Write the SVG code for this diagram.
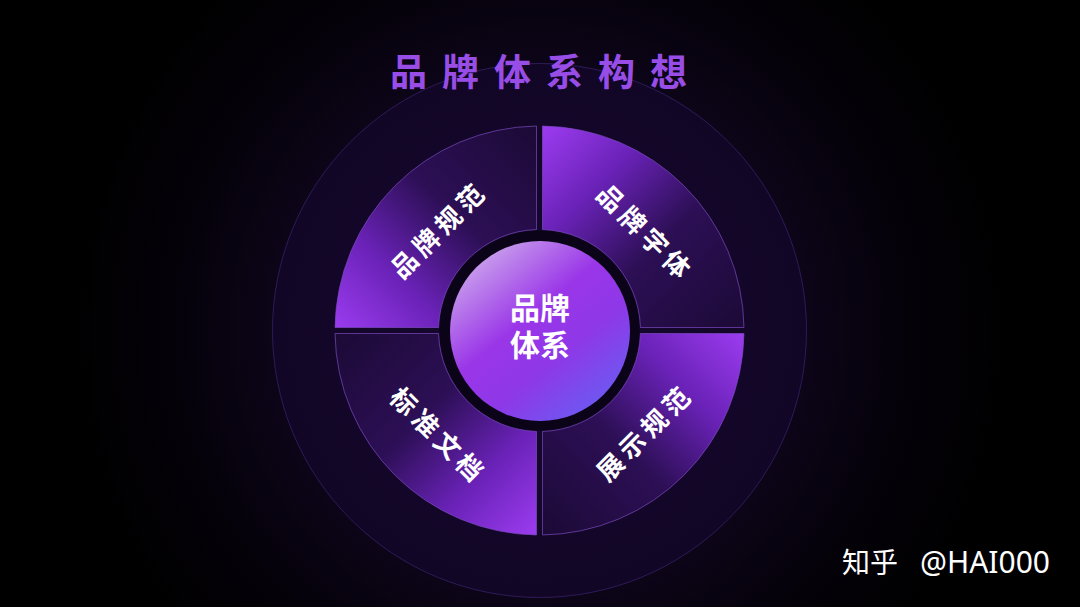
<svg xmlns="http://www.w3.org/2000/svg" width="1080" height="607" viewBox="0 0 1080 607">
  <defs>
    <radialGradient id="bgGlow" cx="540" cy="330" r="470" gradientUnits="userSpaceOnUse">
      <stop offset="0" stop-color="#170a2e"/>
      <stop offset="0.55" stop-color="#0d0519"/>
      <stop offset="0.8" stop-color="#040108"/>
      <stop offset="1" stop-color="#000000"/>
    </radialGradient>
    <radialGradient id="outerFill" cx="540" cy="330" r="268" gradientUnits="userSpaceOnUse">
      <stop offset="0" stop-color="#170831"/>
      <stop offset="1" stop-color="#120626"/>
    </radialGradient>
    <linearGradient id="gTL" x1="336" y1="330" x2="536" y2="126" gradientUnits="userSpaceOnUse">
      <stop offset="0" stop-color="#9c3cf0"/>
      <stop offset="0.28" stop-color="#6a22b8"/>
      <stop offset="0.58" stop-color="#2c0f55"/>
      <stop offset="1" stop-color="#1c0a36"/>
    </linearGradient>
    <linearGradient id="gTR" x1="543" y1="126" x2="744" y2="328" gradientUnits="userSpaceOnUse">
      <stop offset="0" stop-color="#9c3cf0"/>
      <stop offset="0.28" stop-color="#6a22b8"/>
      <stop offset="0.58" stop-color="#2c0f55"/>
      <stop offset="1" stop-color="#1c0a36"/>
    </linearGradient>
    <linearGradient id="gBR" x1="744" y1="334" x2="543" y2="535" gradientUnits="userSpaceOnUse">
      <stop offset="0" stop-color="#9c3cf0"/>
      <stop offset="0.28" stop-color="#6a22b8"/>
      <stop offset="0.58" stop-color="#2c0f55"/>
      <stop offset="1" stop-color="#1c0a36"/>
    </linearGradient>
    <linearGradient id="gBL" x1="536" y1="535" x2="336" y2="334" gradientUnits="userSpaceOnUse">
      <stop offset="0" stop-color="#9c3cf0"/>
      <stop offset="0.28" stop-color="#6a22b8"/>
      <stop offset="0.58" stop-color="#2c0f55"/>
      <stop offset="1" stop-color="#1c0a36"/>
    </linearGradient>
    <linearGradient id="gCenter" x1="0.15" y1="0.08" x2="0.85" y2="0.95">
      <stop offset="0" stop-color="#caa2ec"/>
      <stop offset="0.4" stop-color="#9a36e8"/>
      <stop offset="0.65" stop-color="#8e38e8"/>
      <stop offset="1" stop-color="#6a5cf2"/>
    </linearGradient>
  </defs>
  <style>
    .seg { stroke: #7a48c0; stroke-opacity: 0.7; stroke-width: 1; }
    .lbl { font-family: "Noto Sans CJK SC", "Noto Sans", sans-serif; font-weight: 700; fill: #ffffff; text-anchor: middle; dominant-baseline: central; }
    .seglbl { font-size: 26px; letter-spacing: 5px; }
  </style>

  <rect x="0" y="0" width="1080" height="607" fill="url(#bgGlow)"/>

  <g id="outer-ring">
    <circle cx="539.5" cy="330.5" r="267" fill="url(#outerFill)" stroke="#2e1a58" stroke-width="1"/>
  </g>

  <text x="390" y="86" font-family="'Noto Sans CJK SC', 'Noto Sans', sans-serif" font-weight="700" font-size="37" letter-spacing="15" fill="#984ee6">品牌体系构想</text>

  <g id="connectors"></g>

  <g id="seg-tl">
    <path class="seg" fill="url(#gTL)" d="M335.02 327.5 A204.5 204.5 0 0 1 536.5 126.02 L536.5 229.55 A101 101 0 0 0 438.55 327.5 Z"/>
    <text class="lbl seglbl" transform="translate(436 230) rotate(-45)" x="2.5" y="0">品牌规范</text>
  </g>
  <g id="seg-tr">
    <path class="seg" fill="url(#gTR)" d="M542.5 126.02 A204.5 204.5 0 0 1 743.98 327.5 L640.45 327.5 A101 101 0 0 0 542.5 229.55 Z"/>
    <text class="lbl seglbl" transform="translate(645 230) rotate(45)" x="2.5" y="0">品牌字体</text>
  </g>
  <g id="seg-br">
    <path class="seg" fill="url(#gBR)" d="M743.98 333.5 A204.5 204.5 0 0 1 542.5 534.98 L542.5 431.45 A101 101 0 0 0 640.45 333.5 Z"/>
    <text class="lbl seglbl" transform="translate(642 433) rotate(-45)" x="2.5" y="0">展示规范</text>
  </g>
  <g id="seg-bl">
    <path class="seg" fill="url(#gBL)" d="M536.5 534.98 A204.5 204.5 0 0 1 335.02 333.5 L438.55 333.5 A101 101 0 0 0 536.5 431.45 Z"/>
    <text class="lbl seglbl" transform="translate(438 433) rotate(45)" x="2.5" y="0">标准文档</text>
  </g>

  <g id="center">
    <circle cx="539.5" cy="330.5" r="100" fill="#0b0418"/>
    <circle cx="540" cy="331" r="90" fill="url(#gCenter)"/>
    <text class="lbl" font-size="30"><tspan x="540" y="306">品牌</tspan><tspan x="540" y="343">体系</tspan></text>
  </g>

  <text x="842" y="573" font-family="'Noto Sans CJK SC', 'Noto Sans', sans-serif" font-size="28" fill="#ffffff">知乎 <tspan x="920" font-family="'Noto Sans', sans-serif" font-size="30">@HAI000</tspan></text>
</svg>
